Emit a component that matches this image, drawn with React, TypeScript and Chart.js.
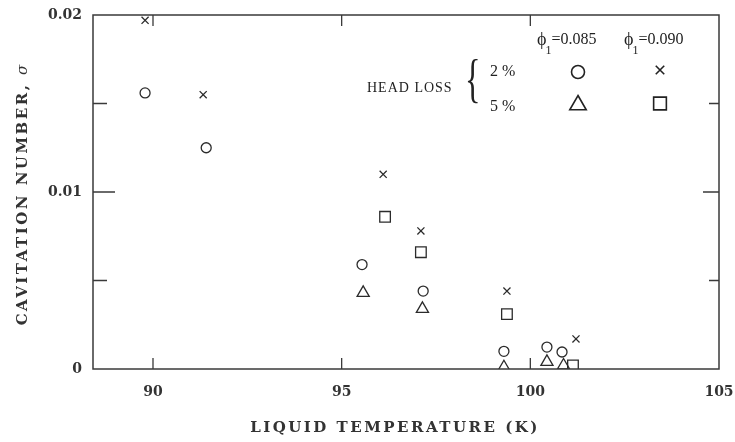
import React, { useEffect, useRef } from 'react';
import { Chart, registerables } from 'chart.js';

Chart.register(...registerables);

// Axis ticks
const xTickValues = [90, 95, 100, 105];
const xTickLabels = ['90', '95', '100', '105'];
const yTickValues = [0, 0.005, 0.01, 0.015, 0.02];
const yTickLabels = ['0', '', '0.01', '', '0.02'];
const yMajorTicks = [0, 0.01, 0.02];
const xMin = 88.41;
const xMax = 105;
const yMin = 0;
const yMax = 0.02;

// phi1 = 0.085, head loss 2 % (circles)
const circleX = [89.79, 91.41, 95.54, 97.16, 99.3, 100.44, 100.84];
const circleY = [0.0156, 0.0125, 0.0059, 0.0044, 0.001, 0.00124, 0.00096];
// phi1 = 0.090, head loss 2 % (crosses)
const crossX = [89.79, 91.33, 96.1, 97.1, 99.38, 101.21];
const crossY = [0.0197, 0.0155, 0.011, 0.0078, 0.0044, 0.0017];
// phi1 = 0.085, head loss 5 % (triangles)
const triangleX = [95.57, 97.14, 99.3, 100.44, 100.88];
const triangleY = [0.0043, 0.0034, 0.0001, 0.0004, 0.0002];
// phi1 = 0.090, head loss 5 % (squares)
const squareX = [96.15, 97.1, 99.38, 101.13];
const squareY = [0.0086, 0.0066, 0.0031, 0.0002];

// Legend text
const phiValues = ['0.085', '0.090'];
const headLossLabels = ['2 %', '5 %'];
const headLossTitle = 'HEAD LOSS';
const xTitle = 'LIQUID TEMPERATURE (K)';
const yTitleMain = 'CAVITATION NUMBER, ';
const yTitleSymbol = 'σ';

const INK = '#2b2b2b';
const TEXT = '#333';

const zip = (xs: number[], ys: number[]) => xs.map((x, i) => ({ x, y: ys[i] }));

function drawSymbol(ctx: CanvasRenderingContext2D, style: string, x: number, y: number, r: number) {
  ctx.beginPath();
  if (style === 'circle') {
    ctx.arc(x, y, r, 0, Math.PI * 2);
  } else if (style === 'crossRot') {
    const d = r * Math.SQRT1_2;
    ctx.moveTo(x - d, y - d);
    ctx.lineTo(x + d, y + d);
    ctx.moveTo(x + d, y - d);
    ctx.lineTo(x - d, y + d);
  } else if (style === 'triangle') {
    const h = (Math.sqrt(3) / 2) * r;
    ctx.moveTo(x, y - r);
    ctx.lineTo(x + h, y + r / 2);
    ctx.lineTo(x - h, y + r / 2);
    ctx.closePath();
  } else if (style === 'rect') {
    const s = r * Math.SQRT1_2;
    ctx.rect(x - s, y - s, 2 * s, 2 * s);
  }
  ctx.stroke();
}

const framePlugin = {
  id: 'frameAndAnnotations',
  afterDraw(chart: any) {
    const { ctx, chartArea, scales } = chart;
    const { left, right, top, bottom } = chartArea;
    const xs = scales.x;
    const ys = scales.y;
    ctx.save();
    ctx.strokeStyle = '#3a3a3a';
    ctx.lineWidth = 1.5;
    ctx.strokeRect(left, top, right - left, bottom - top);

    // inward ticks
    ctx.lineWidth = 1.3;
    ctx.beginPath();
    xTickValues.forEach((v) => {
      const px = xs.getPixelForValue(v);
      if (px <= left + 1 || px >= right - 1) return;
      ctx.moveTo(px, bottom);
      ctx.lineTo(px, bottom - 11);
      ctx.moveTo(px, top);
      ctx.lineTo(px, top + 11);
    });
    yTickValues.forEach((v) => {
      const py = ys.getPixelForValue(v);
      if (py <= top + 1 || py >= bottom - 1) return;
      const major = yMajorTicks.includes(v);
      ctx.moveTo(left, py);
      ctx.lineTo(left + (major ? 22 : 14), py);
      ctx.moveTo(right, py);
      ctx.lineTo(right - (major ? 16 : 10), py);
    });
    ctx.stroke();

    ctx.fillStyle = TEXT;
    ctx.strokeStyle = INK;

    // X title
    ctx.save();
    ctx.font = 'bold 15px "DejaVu Serif"';
    (ctx as any).letterSpacing = '2.5px';
    ctx.textAlign = 'center';
    ctx.textBaseline = 'middle';
    ctx.fillText(xTitle, (left + right) / 2 - 11, 428);
    ctx.restore();

    // Y title
    ctx.save();
    ctx.translate(23, (top + bottom) / 2 + 3);
    ctx.rotate(-Math.PI / 2);
    ctx.font = 'bold 15px "DejaVu Serif"';
    (ctx as any).letterSpacing = '2.5px';
    ctx.textBaseline = 'middle';
    ctx.textAlign = 'left';
    const w1 = ctx.measureText(yTitleMain).width;
    ctx.font = 'italic 15px "DejaVu Serif"';
    (ctx as any).letterSpacing = '0px';
    const w2 = ctx.measureText(yTitleSymbol).width;
    const start = -(w1 + w2) / 2;
    ctx.font = 'bold 15px "DejaVu Serif"';
    (ctx as any).letterSpacing = '2.5px';
    ctx.fillText(yTitleMain, start, 0);
    ctx.font = 'italic 15px "DejaVu Serif"';
    (ctx as any).letterSpacing = '0px';
    ctx.fillText(yTitleSymbol, start + w1, 0);
    ctx.restore();

    // Legend
    ctx.save();
    ctx.fillStyle = '#222';
    ctx.strokeStyle = '#222';
    ctx.textBaseline = 'middle';
    ctx.textAlign = 'left';
    const phiX = [537, 624];
    phiValues.forEach((val, i) => {
      ctx.font = '18px "Liberation Serif"';
      ctx.fillText('ϕ', phiX[i], 40);
      const wp = ctx.measureText('ϕ').width;
      ctx.font = '12px "Liberation Serif"';
      ctx.fillText('1', phiX[i] + wp - 1, 51);
      ctx.font = '16px "Liberation Serif"';
      ctx.fillText('=' + val, phiX[i] + wp + 5, 40);
    });
    ctx.font = '16px "Liberation Serif"';
    ctx.fillText(headLossLabels[0], 490, 72);
    ctx.fillText(headLossLabels[1], 490, 107);
    ctx.font = '14px "Liberation Serif"';
    (ctx as any).letterSpacing = '1px';
    ctx.fillText(headLossTitle, 367, 88);
    (ctx as any).letterSpacing = '0px';
    // brace
    ctx.save();
    ctx.translate(465, 82);
    ctx.scale(0.62, 1);
    ctx.font = '52px "Liberation Serif"';
    ctx.fillText('{', 0, 0);
    ctx.restore();
    ctx.lineWidth = 1.6;
    drawSymbol(ctx, 'circle', 578, 72, 6.5);
    drawSymbol(ctx, 'crossRot', 660, 70, 6);
    drawSymbol(ctx, 'triangle', 578, 105, 9.5);
    drawSymbol(ctx, 'rect', 660, 103.5, 9);
    ctx.restore();

    ctx.restore();
  },
};

export default function App() {
  const ref = useRef<HTMLCanvasElement | null>(null);
  useEffect(() => {
    if (!ref.current) return;
    const common = {
      borderColor: INK,
      backgroundColor: 'rgba(0,0,0,0)',
      pointBorderColor: INK,
      pointBackgroundColor: 'rgba(0,0,0,0)',
      pointBorderWidth: 1.3,
      showLine: false,
    };
    const chart = new Chart(ref.current, {
      type: 'scatter',
      data: {
        datasets: [
          { ...common, label: 'φ1=0.085, 2 %', data: zip(circleX, circleY), pointStyle: 'circle', pointRadius: 5 },
          { ...common, label: 'φ1=0.090, 2 %', data: zip(crossX, crossY), pointStyle: 'crossRot', pointRadius: 5 },
          { ...common, label: 'φ1=0.085, 5 %', data: zip(triangleX, triangleY), pointStyle: 'triangle', pointRadius: 7 },
          { ...common, label: 'φ1=0.090, 5 %', data: zip(squareX, squareY), pointStyle: 'rect', pointRadius: 7.5 },
        ],
      },
      options: {
        responsive: false,
        animation: false,
        devicePixelRatio: 1,
        layout: { padding: { left: 0, right: 16, top: 15, bottom: 0 } },
        plugins: { legend: { display: false }, tooltip: { enabled: false } },
        scales: {
          x: {
            type: 'linear',
            min: xMin,
            max: xMax,
            afterBuildTicks: (s: any) => {
              s.ticks = xTickValues.map((v) => ({ value: v }));
            },
            afterFit: (s: any) => {
              s.height = 73;
              s.paddingLeft = 0;
              s.paddingRight = 0;
            },
            grid: { display: false, drawTicks: false },
            border: { display: false },
            ticks: {
              callback: (_v: any, i: number) => xTickLabels[i],
              font: { family: 'DejaVu Serif', size: 14, weight: 'bold' },
              color: TEXT,
              padding: 15,
              maxRotation: 0,
              autoSkip: false,
            },
          },
          y: {
            type: 'linear',
            min: yMin,
            max: yMax,
            afterBuildTicks: (s: any) => {
              s.ticks = yTickValues.map((v) => ({ value: v }));
            },
            afterFit: (s: any) => {
              s.width = 93;
              s.paddingTop = 0;
              s.paddingBottom = 0;
            },
            grid: { display: false, drawTicks: false },
            border: { display: false },
            ticks: {
              callback: (_v: any, i: number) => yTickLabels[i],
              font: { family: 'DejaVu Serif', size: 14, weight: 'bold' },
              color: TEXT,
              padding: 11,
              autoSkip: false,
            },
          },
        },
      },
      plugins: [framePlugin],
    } as any);
    return () => chart.destroy();
  }, []);
  return (
    <div style={{ position: 'absolute', left: 0, top: 0, width: 735, height: 442, background: '#fff' }}>
      <canvas ref={ref} width={735} height={442} />
    </div>
  );
}
